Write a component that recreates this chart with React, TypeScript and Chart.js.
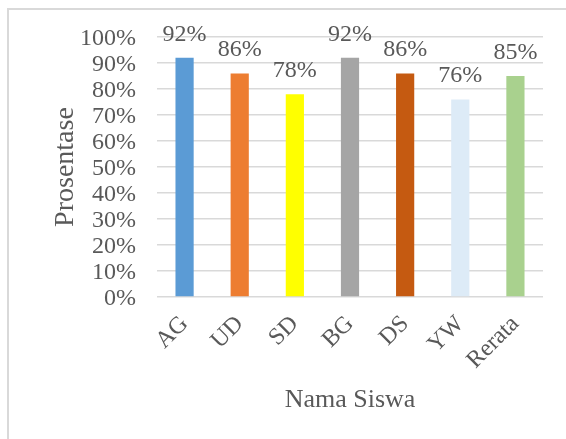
import React, { useEffect, useRef } from "react";
import { Chart, registerables } from "chart.js";

Chart.register(...registerables);

const categories = ["AG", "UD", "SD", "BG", "DS", "YW", "Rerata"];
const values = [92, 86, 78, 92, 86, 76, 85];
const barColors = ["#5B9BD5", "#ED7D31", "#FFFF00", "#A5A5A5", "#C55A11", "#DDEBF7", "#A9D18E"];
const yTitle = "Prosentase";
const xTitle = "Nama Siswa";

const FONT = '"Liberation Serif", "Times New Roman", serif';
const TEXT = "#595959";
const GRID = "#d9d9d9";

const labelPlugin = {
  id: "barLabels",
  afterDatasetsDraw(chart: any) {
    const ctx = chart.ctx;
    const meta = chart.getDatasetMeta(0);
    ctx.save();
    ctx.font = `24px ${FONT}`;
    ctx.fillStyle = TEXT;
    ctx.textAlign = "center";
    ctx.textBaseline = "alphabetic";
    meta.data.forEach((bar: any, i: number) => {
      ctx.fillText(values[i] + "%", bar.x, bar.y - 17);
    });
    ctx.restore();
  },
};

export default function App() {
  const ref = useRef<HTMLCanvasElement | null>(null);
  useEffect(() => {
    if (!ref.current) return;
    const chart = new Chart(ref.current, {
      type: "bar",
      data: {
        labels: categories,
        datasets: [
          {
            data: values,
            backgroundColor: barColors,
            barPercentage: 0.33,
            categoryPercentage: 1,
          },
        ],
      },
      options: {
        animation: false,
        responsive: false,
        devicePixelRatio: 1,
        layout: { padding: { left: 0, right: 23, top: 37, bottom: 0 } },
        plugins: { legend: { display: false }, tooltip: { enabled: false } },
        scales: {
          x: {
            grid: { display: false },
            border: { display: false },
            ticks: {
              color: TEXT,
              font: { family: FONT, size: 24 },
              minRotation: 45,
              maxRotation: 45,
              autoSkip: false,
              padding: 5,
            },
            title: {
              display: true,
              text: xTitle,
              color: TEXT,
              font: { family: FONT, size: 26 },
              padding: { top: 0, bottom: 23 },
            },
            afterFit(scale: any) {
              scale.height = 439 - 297;
            },
          },
          y: {
            min: 0,
            max: 100,
            grid: { color: GRID, lineWidth: 1.5, drawTicks: false },
            border: { display: false },
            ticks: {
              stepSize: 10,
              autoSkip: false,
              color: TEXT,
              font: { family: FONT, size: 24 },
              padding: 21,
              labelOffset: 2,
              callback: (v: any) => v + "%",
            },
            title: {
              display: true,
              text: yTitle,
              color: TEXT,
              font: { family: FONT, size: 28 },
              padding: { top: 49, bottom: 0 },
            },
            afterFit(scale: any) {
              scale.width = 157;
            },
          },
        },
      },
      plugins: [labelPlugin],
    });
    return () => chart.destroy();
  }, []);
  return (
    <>
      <div
        style={{
          position: "fixed",
          left: 7,
          top: 8,
          width: 566,
          height: 439,
          borderTop: `2px solid ${GRID}`,
          borderLeft: `2px solid ${GRID}`,
        }}
      />
      <canvas
        ref={ref}
        width={566}
        height={439}
        style={{ position: "fixed", left: 0, top: 0, width: 566, height: 439 }}
      />
    </>
  );
}
